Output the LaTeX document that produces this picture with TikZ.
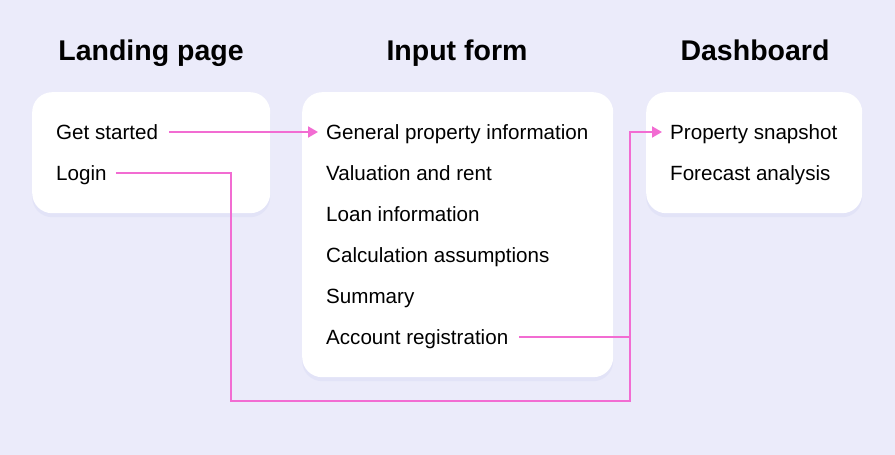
\documentclass[tikz,border=0pt]{standalone}
\usepackage{fontspec}
\setmainfont{Liberation Sans}
\usetikzlibrary{arrows.meta,positioning,shadows}

\definecolor{pagebg}{HTML}{EBEBFA}
\definecolor{shade}{HTML}{DDDFF5}
\definecolor{flow}{HTML}{F26CD2}

\begin{document}
\begin{tikzpicture}[x=1pt, y=-1pt,
  panel/.style={fill=white, rounded corners=20pt, anchor=north west,
                inner sep=0pt,
                drop shadow={shadow xshift=0pt, shadow yshift=-4pt,
                             fill=shade, opacity=0.6}},
  head/.style={font=\fontsize{28.5}{32}\selectfont\bfseries, anchor=base},
  item/.style={font=\fontsize{20.6}{24}\selectfont, anchor=base west,
               inner sep=0pt},
  link/.style={draw=flow, line width=2pt,
               -{Triangle[length=10pt, width=11pt]}},
  wire/.style={draw=flow, line width=2pt}
]
  \fill[pagebg] (0,0) rectangle (895,455);
  \useasboundingbox (0,0) rectangle (895,455);

  % panels
  \node[panel, minimum width=238pt, minimum height=121pt] (land) at (32,92) {};
  \node[panel, minimum width=311pt, minimum height=285pt] (form) at (302,92) {};
  \node[panel, minimum width=216pt, minimum height=121pt] (dash) at (646,92) {};

  % headings
  \node[head] (hland) at (151,60) {Landing page};
  \node[head] (hform) at (457,60) {Input form};
  \node[head] (hdash) at (755,60) {Dashboard};

  % landing page
  \node[item] (start) at (56,139) {Get started};
  \node[item] (login) at (56,180) {Login};

  % input form
  \node[item] (general) at (326,139) {General property information};
  \node[item] (rent)    at (326,180) {Valuation and rent};
  \node[item] (loan)    at (326,221) {Loan information};
  \node[item] (calc)    at (326,262) {Calculation assumptions};
  \node[item] (summ)    at (326,303) {Summary};
  \node[item] (account) at (326,344) {Account registration};

  % dashboard
  \node[item] (snap)     at (670,139) {Property snapshot};
  \node[item] (forecast) at (670,180) {Forecast analysis};

  % connectors
  \coordinate (downA) at (231,401);
  \coordinate (downB) at (630,401);

  \draw[link] ([xshift=11pt, yshift=7pt]start.base east)
    -- ([xshift=-8pt, yshift=7pt]general.base west);
  \draw[link] ([xshift=9pt, yshift=7pt]login.base east) -| (downA) -- (downB)
    |- ([xshift=-8pt, yshift=7pt]snap.base west);
  \draw[wire] ([xshift=11pt, yshift=7pt]account.base east)
    -- ([yshift=7pt]account.base east -| downB);
\end{tikzpicture}
\end{document}
